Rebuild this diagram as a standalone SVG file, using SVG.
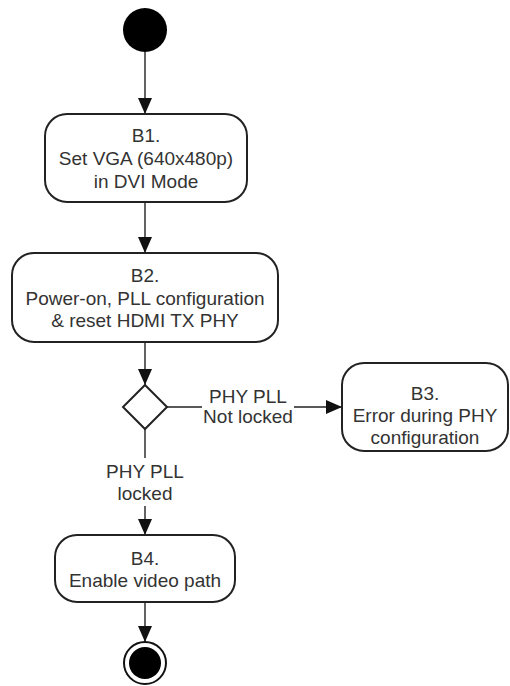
<svg xmlns="http://www.w3.org/2000/svg" width="510" height="686" viewBox="0 0 510 686">
  <style>
    .box { fill: #fff; stroke: #222; stroke-width: 2; }
    .txt { font-family: "Liberation Sans", Arial, sans-serif; font-size: 19px; fill: #333; text-anchor: middle; }
    .edge { fill: none; stroke: #222; stroke-width: 1.4; marker-end: url(#arrow); }
    .lblbg { fill: #fff; }
  </style>
  <defs>
    <marker id="arrow" markerUnits="userSpaceOnUse" markerWidth="17" markerHeight="14" refX="16" refY="7" orient="auto">
      <path d="M0,0 L16,7 L0,14 z" fill="#111"/>
    </marker>
  </defs>

  <rect width="510" height="686" fill="#fff"/>

  <!-- connectors -->
  <g id="connectors">
    <line class="edge" x1="145" y1="52" x2="145" y2="114"/>
    <line class="edge" x1="145" y1="202" x2="145" y2="253"/>
    <line class="edge" x1="145" y1="342" x2="145" y2="385"/>
    <line class="edge" x1="167" y1="407" x2="342" y2="407"/>
    <line class="edge" x1="145" y1="429" x2="145" y2="535"/>
    <line class="edge" x1="145" y1="602" x2="145" y2="642"/>
    <!-- guard labels -->
    <rect class="lblbg" x="202" y="387" width="92" height="40"/>
    <text class="txt" x="248" y="403">PHY PLL</text>
    <text class="txt" x="248" y="423">Not locked</text>
    <rect class="lblbg" x="104" y="458" width="82" height="48"/>
    <text class="txt" x="145" y="478">PHY PLL</text>
    <text class="txt" x="145" y="500">locked</text>
  </g>

  <!-- initial node -->
  <g id="start">
    <circle cx="145" cy="30" r="22" fill="#000"/>
  </g>

  <g id="B1">
    <rect class="box" x="45" y="114" width="202" height="88" rx="22" ry="22"/>
    <text class="txt" x="146" y="142">B1.</text>
    <text class="txt" x="146" y="165">Set VGA (640x480p)</text>
    <text class="txt" x="146" y="188">in DVI Mode</text>
  </g>

  <g id="B2">
    <rect class="box" x="12" y="253" width="266" height="89" rx="22" ry="22"/>
    <text class="txt" x="145" y="282">B2.</text>
    <text class="txt" x="145" y="305">Power-on, PLL configuration</text>
    <text class="txt" x="145" y="327">&amp; reset HDMI TX PHY</text>
  </g>

  <g id="decision">
    <polygon class="box" points="145,385 167,407 145,429 123,407"/>
  </g>

  <g id="B3">
    <rect class="box" x="342" y="363" width="166" height="88" rx="22" ry="22"/>
    <text class="txt" x="425" y="400">B3.</text>
    <text class="txt" x="425" y="422">Error during PHY</text>
    <text class="txt" x="425" y="444">configuration</text>
  </g>

  <g id="B4">
    <rect class="box" x="55" y="535" width="180" height="67" rx="22" ry="22"/>
    <text class="txt" x="145" y="565">B4.</text>
    <text class="txt" x="145" y="587">Enable video path</text>
  </g>

  <!-- final node -->
  <g id="end">
    <circle cx="145" cy="663" r="21" fill="#fff" stroke="#111" stroke-width="2"/>
    <circle cx="145" cy="663" r="16" fill="#000"/>
  </g>
</svg>
